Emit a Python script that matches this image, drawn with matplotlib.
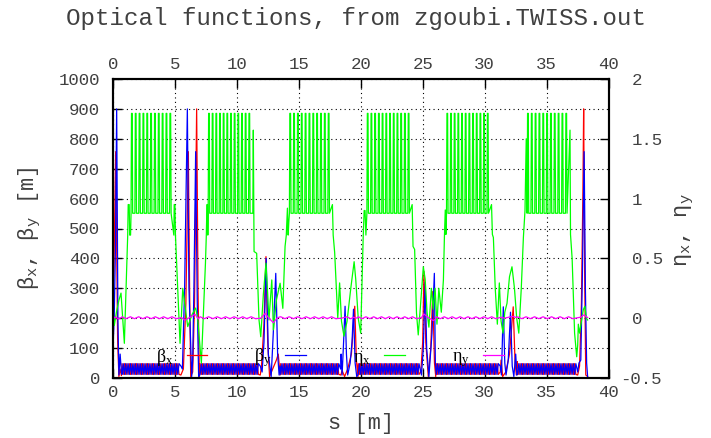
import numpy as np
import matplotlib
matplotlib.use("Agg")
import matplotlib.pyplot as plt

plt.rcParams["font.family"] = ["Liberation Mono", "DejaVu Sans Mono"]
plt.rcParams["mathtext.default"] = "regular"

# ---------------------------------------------------------------------------
# Twiss functions along the ring (s in metres)
# ---------------------------------------------------------------------------
# arc stretches: periodic cells repeated between start and end
BETA_ARCS = [(0.75, 5.45), (7.05, 11.85), (13.55, 18.33), (19.80, 24.80),
             (26.10, 31.20), (32.65, 37.45)]
ETAX_ARCS = [(1.48, 4.89), (7.70, 11.25), (14.25, 17.66), (20.50, 24.10),
             (26.92, 30.48), (33.42, 36.82)]
ETAY_ARCS = BETA_ARCS

# one arc cell (fractions of the cell length and the values there)
BETA_CELL_LEN = 0.20
BETA_CELL_FRAC = [0.0, 0.5]
BETA_X_CELL = [48.0, 12.0]
BETA_Y_CELL = [12.0, 48.0]

ETAX_CELL_LEN = 0.30
ETAX_CELL_FRAC = [0.0, 0.12, 0.30, 0.42]
ETAX_CELL = [0.8775, 1.7125, 1.7125, 0.8775]

ETAY_CELL_LEN = 0.65
ETAY_CELL_FRAC = [0.0, 0.5]
ETAY_CELL = [0.012, -0.004]

# straight sections / matching insertions between the arcs
BX_S = [0.0, 0.1, 0.24, 0.4, 0.5, 0.6, 0.7,
        5.5, 5.7, 5.9, 6.1, 6.2, 6.29, 6.45, 6.6, 6.77, 6.88, 6.99,
        11.9, 12.0, 12.2, 12.36, 12.5, 12.65, 12.9, 13.2, 13.35, 13.5,
        18.4, 18.5, 18.7, 18.95, 19.25, 19.52, 19.65, 19.78,
        24.85, 25.0, 25.1, 25.25, 25.45, 25.65, 25.81, 25.95, 26.05,
        31.25, 31.32, 31.45, 31.7, 32.0, 32.3, 32.45, 32.55, 32.62,
        37.5, 37.65, 37.8, 37.92, 37.98, 38.06, 38.15, 38.3]
BX_V = [250, 360, 757, 120, 5, 30, 8,
        10, 30, 250, 757, 300, 5, 20, 250, 900, 300, 5,
        10, 40, 180, 406, 120, 5, 30, 60, 80, 10,
        10, 25, 5, 30, 80, 240, 60, 5,
        20, 120, 356, 120, 5, 100, 289, 50, 5,
        20, 60, 5, 20, 80, 238, 50, 10, 55,
        10, 40, 250, 620, 900, 350, 10, 5]

BY_S = [0.0, 0.12, 0.22, 0.32, 0.42, 0.5, 0.6, 0.7,
        5.5, 5.62, 5.8, 6.02, 6.15, 6.37, 6.45, 6.55, 6.69, 6.82, 6.93,
        11.9, 12.05, 12.2, 12.38, 12.55, 12.78, 12.95, 13.15, 13.3, 13.42, 13.5,
        18.38, 18.42, 18.5, 18.62, 18.74, 18.85, 18.95, 19.15, 19.3, 19.42, 19.55, 19.68,
        24.9, 25.05, 25.2, 25.32, 25.5, 25.75, 25.94, 26.02,
        31.25, 31.35, 31.5, 31.62, 31.72, 31.9, 32.08, 32.22, 32.35, 32.5, 32.6,
        37.5, 37.6, 37.75, 37.88, 38.02, 38.12, 38.22, 38.3]
BY_V = [80, 200, 430, 900, 200, 10, 80, 20,
        40, 30, 300, 900, 300, 5, 60, 300, 757, 250, 5,
        40, 20, 120, 400, 80, 5, 150, 350, 80, 10, 40,
        30, 80, 10, 120, 240, 80, 10, 50, 120, 230, 50, 5,
        10, 100, 320, 100, 5, 150, 350, 50,
        40, 10, 238, 50, 10, 60, 220, 40, 5, 80, 10,
        20, 50, 60, 350, 757, 300, 50, 5]

EX_S = [0.0, 0.13, 0.3, 0.5, 0.67, 0.94, 1.21, 1.25, 1.33, 1.37, 1.44,
        4.93, 4.96, 5.02, 5.06, 5.43, 5.65, 6.05, 6.4, 6.69, 6.85, 7.15, 7.48,
        7.55, 7.6, 7.64, 7.67,
        11.3, 11.34, 11.4, 11.61, 11.8, 11.94, 12.15, 12.36, 12.5, 12.6, 12.83,
        12.96, 13.2, 13.5, 13.72, 13.9, 14.0, 14.09, 14.15, 14.2,
        17.72, 17.78, 17.9, 18.15, 18.3, 18.45, 18.65, 18.9, 19.2, 19.35, 19.47,
        19.6, 19.8, 20.0, 20.2, 20.28, 20.35, 20.42,
        24.15, 24.22, 24.35, 24.5, 24.64, 24.8, 25.05, 25.2, 25.35, 25.5, 25.7,
        25.85, 26.0, 26.15, 26.3, 26.5, 26.67, 26.75, 26.82, 26.87,
        30.55, 30.62, 30.7, 30.85, 31.02, 31.18, 31.32, 31.48, 31.62, 31.8, 32.0,
        32.2, 32.4, 32.58, 32.75, 32.95, 33.12, 33.25, 33.35,
        36.88, 36.92, 37.05, 37.25, 37.42, 37.5, 37.55, 37.65, 37.8, 37.95,
        38.08, 38.2, 38.3]
EX_V = [0.07, -0.06, 0.05, 0.15, 0.21, -0.21, 0.695, 0.95, 0.95, 0.695, 0.695,
        0.695, 0.95, 0.95, 0.695, -0.21, 0.25, -0.07, 0.03, 0.085, 0.0, -0.375, 0.46,
        0.695, 0.95, 0.95, 0.695,
        0.8775, 1.5725, 0.5575, 0.5425, -0.015, -0.155, 0.2, 0.46, 0.2, -0.015, 0.32,
        -0.0975, 0.15, 0.2925, 0.0825, 0.6, 0.695, 0.92, 0.695, 0.8,
        0.95, 0.695, 0.55, 0.0, 0.295, -0.025, -0.15, -0.025, 0.25, 0.375, 0.4725,
        0.325, 0.0, -0.125, 0.675, 0.9, 0.9, 0.695,
        0.95, 0.6, 0.575, 0.0425, -0.14, 0.075, 0.43, 0.325, 0.05, -0.075, 0.25,
        0.075, 0.25, -0.05, 0.25, 0.05, 0.32, 0.675, 0.905, 0.7,
        0.95, 0.7, 0.675, 0.25, -0.05, 0.295, -0.025, -0.125, 0.05, 0.125, 0.3475,
        0.43, 0.25, 0.0, -0.125, 0.25, 0.675, 0.9, 1.5,
        1.5725, 0.7, 0.5, -0.125, -0.3225, -0.225, -0.05, -0.125, -0.025, 0.07,
        0.1, 0.0, -0.015]

EY_S = [0.0, 0.2, 0.45, 0.7,
        5.55, 5.8, 6.1, 6.64, 6.9,
        11.95, 12.3, 12.6, 12.96, 13.25, 13.45,
        18.45, 18.87, 19.2, 19.41, 19.7,
        24.9, 25.1, 25.45, 25.86, 26.0,
        31.3, 31.6, 32.0, 32.3, 32.55,
        37.55, 37.8, 37.95, 38.1, 38.3]
EY_V = [-0.01, 0.01, -0.005, 0.005,
        0.005, -0.017, 0.0, 0.033, -0.005,
        0.0, 0.04, 0.0, -0.038, 0.0, 0.01,
        0.0, 0.012, -0.005, 0.008, 0.0,
        0.005, 0.035, 0.005, -0.02, -0.01,
        0.008, 0.0, 0.01, 0.015, 0.005,
        0.005, 0.01, 0.027, 0.02, 0.005]


def assemble(arcs, cell_len, frac, cell_vals, ins_s, ins_v):
    """Merge the repeated arc cells with the insertion points, ordered in s."""
    s_all = list(ins_s)
    v_all = list(ins_v)
    for a, b in arcs:
        n = max(1, int(round((b - a) / cell_len)))
        length = (b - a) / n
        for k in range(n):
            for f, v in zip(frac, cell_vals):
                s_all.append(a + (k + f) * length)
                v_all.append(v)
    s_all = np.asarray(s_all, float)
    v_all = np.asarray(v_all, float)
    order = np.argsort(s_all, kind="stable")
    return s_all[order], v_all[order]


s_bx, beta_x = assemble(BETA_ARCS, BETA_CELL_LEN, BETA_CELL_FRAC, BETA_X_CELL, BX_S, BX_V)
s_by, beta_y = assemble(BETA_ARCS, BETA_CELL_LEN, BETA_CELL_FRAC, BETA_Y_CELL, BY_S, BY_V)
s_ex, eta_x = assemble(ETAX_ARCS, ETAX_CELL_LEN, ETAX_CELL_FRAC, ETAX_CELL, EX_S, EX_V)
s_ey, eta_y = assemble(ETAY_ARCS, ETAY_CELL_LEN, ETAY_CELL_FRAC, ETAY_CELL, EY_S, EY_V)

# ---------------------------------------------------------------------------
# Figure
# ---------------------------------------------------------------------------
W, H = 711, 438
fig = plt.figure(figsize=(W / 100, H / 100), dpi=100)
x0, x1, y0, y1 = 112.7, 608.7, 79.0, 378.0
ax = fig.add_axes([x0 / W, 1 - y1 / H, (x1 - x0) / W, (y1 - y0) / H])
ax2 = ax.twinx()

TXT = "#404040"
LW = 0.9

l_bx, = ax.plot(s_bx, beta_x, color="#ff0000", lw=LW, label=r"$\beta_x$")
l_by, = ax.plot(s_by, beta_y, color="#0000ff", lw=LW, label=r"$\beta_y$")
l_ex, = ax2.plot(s_ex, eta_x, color="#00ff00", lw=LW, label=r"$\eta_x$")
l_ey, = ax2.plot(s_ey, eta_y, color="#ff00ff", lw=LW, label=r"$\eta_y$")

ax.set_xlim(0, 40)
ax.set_ylim(0, 1000)
ax2.set_ylim(-0.5, 2.0)

ax.set_xticks(np.arange(0, 41, 5))
ax.set_yticks(np.arange(0, 1001, 100))
ax2.set_yticks(np.arange(-0.5, 2.01, 0.5))
ax2.set_yticklabels(["-0.5", "0", "0.5", "1", "1.5", "2"])

tick_kw = dict(direction="in", length=6.5, width=1.0, colors="black",
               labelcolor=TXT, labelsize=12.5)
ax.tick_params(axis="x", top=True, bottom=True, labeltop=True, labelbottom=True,
               pad=5, **tick_kw)
ax.tick_params(axis="y", left=True, right=False, pad=9, **tick_kw)
ax2.tick_params(axis="y", right=True, left=False, pad=16.5, **tick_kw)
for lab in ax2.get_yticklabels():
    lab.set_horizontalalignment("left")
# the minus sign of the lowest right-hand label hangs out to the left
y2_ticks = ax2.yaxis.get_major_ticks()
y2_ticks[0].set_pad(8.0)
y2_ticks[0].label2.set_horizontalalignment("left")

ax.grid(True, color="black", lw=0.8, linestyle=(0, (1, 3)))

for a in (ax, ax2):
    for sp in a.spines.values():
        sp.set_linewidth(1.5)
        sp.set_color("black")

ax.set_zorder(0)
ax2.set_zorder(1)

leg = ax2.legend(handles=[l_bx, l_by, l_ex, l_ey], ncol=4, loc="center",
                 bbox_to_anchor=(0.438, 0.067), frameon=False, markerfirst=False,
                 handlelength=1.15, handletextpad=0.75, columnspacing=2.6,
                 prop={"family": ["Liberation Serif", "DejaVu Serif"], "size": 13})
for t in leg.get_texts():
    t.set_color("black")

fig.text(0.5, 1 - 18 / H, "Optical functions, from zgoubi.TWISS.out",
         ha="center", va="center", fontsize=17.4, color=TXT)
fig.text(360.7 / W, 1 - 424 / H, "s [m]", ha="center", va="center",
         fontsize=15.8, color=TXT)
fig.text(30 / W, 1 - 228 / H, r"β$_x$, β$_y$ [m]", ha="center", va="center",
         rotation=90, fontsize=15.8, color=TXT)
fig.text(685 / W, 1 - 230 / H, r"η$_x$, η$_y$", ha="center", va="center",
         rotation=90, fontsize=15.8, color=TXT)

fig.savefig("out.png", dpi=100)
